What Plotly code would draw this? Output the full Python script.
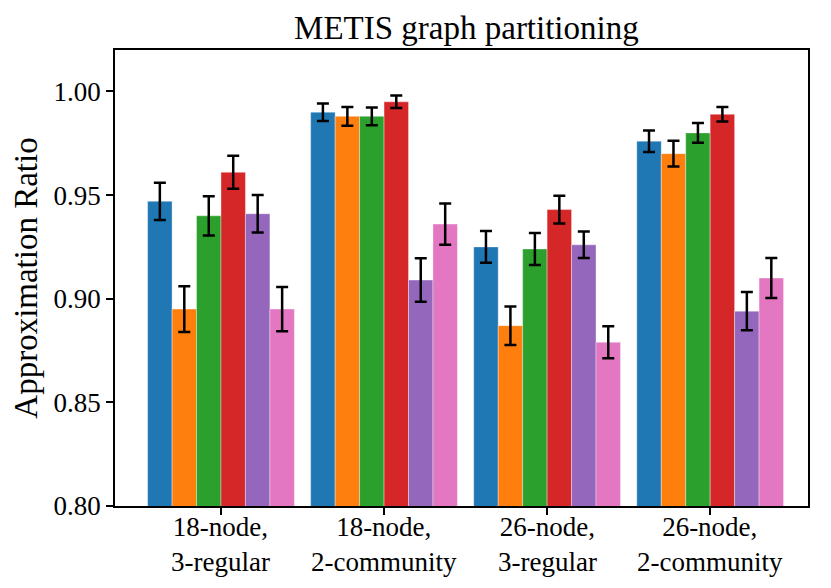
import plotly.graph_objects as go

groups = ["18-node, 3-regular", "18-node, 2-community",
          "26-node, 3-regular", "26-node, 2-community"]
label_top = ["18-node,", "18-node,", "26-node,", "26-node,"]
label_bottom = ["3-regular", "2-community", "3-regular", "2-community"]

# one list per method (bar colour), values per group
blue = [0.947, 0.990, 0.925, 0.976]
orange = [0.895, 0.988, 0.887, 0.970]
green = [0.940, 0.988, 0.924, 0.980]
red = [0.961, 0.995, 0.943, 0.989]
purple = [0.941, 0.909, 0.926, 0.894]
pink = [0.895, 0.936, 0.879, 0.910]

blue_err = [0.009, 0.0042, 0.0077, 0.0052]
orange_err = [0.011, 0.0045, 0.0093, 0.0062]
green_err = [0.0095, 0.0043, 0.0077, 0.0048]
red_err = [0.008, 0.003, 0.0067, 0.0035]
purple_err = [0.009, 0.0105, 0.0064, 0.0092]
pink_err = [0.0107, 0.010, 0.0077, 0.0096]

series = [
    (blue, blue_err, "#1f77b4"),
    (orange, orange_err, "#ff7f0e"),
    (green, green_err, "#2ca02c"),
    (red, red_err, "#d62728"),
    (purple, purple_err, "#9467bd"),
    (pink, pink_err, "#e377c2"),
]

fig = go.Figure()
for vals, errs, col in series:
    fig.add_trace(go.Bar(
        x=groups, y=vals, marker_color=col,
        marker_line=dict(width=0.6, color="rgba(255,255,255,0.6)"),
        error_y=dict(type="data", array=errs, color="black", thickness=2.5, width=6),
        showlegend=False,
    ))

# two-line category labels under each tick
for g, top, bottom in zip(groups, label_top, label_bottom):
    fig.add_annotation(x=g, y=0, xref="x", yref="paper",
                       text=f"{top}<br>{bottom}", showarrow=False,
                       yanchor="middle", yshift=-38, font=dict(size=27))

font = "Liberation Serif, Times New Roman, serif"
# page body adds an 8px offset, so the figure is sized to fill the rest
fig.update_layout(
    width=823, height=580,
    margin=dict(l=107, r=23, t=42, b=82),
    paper_bgcolor="white", plot_bgcolor="white",
    barmode="group", bargap=0.1, bargroupgap=0,
    font=dict(family=font, color="black", size=26),
    title=dict(text="METIS graph partitioning", x=0.557, xanchor="center",
               y=0.967, yanchor="middle", font=dict(size=33)),
)
fig.update_xaxes(
    range=[-0.65, 3.6], showline=True, linecolor="black", linewidth=1.5,
    mirror=True, ticks="outside", ticklen=7, tickwidth=1.5, tickcolor="black",
    showticklabels=False, automargin=False,
)
fig.update_yaxes(
    range=[0.80, 1.02], tickvals=[0.80, 0.85, 0.90, 0.95, 1.00],
    tickformat=".2f", showgrid=False, zeroline=False,
    showline=True, linecolor="black", linewidth=1.5, mirror=True,
    ticks="outside", ticklen=7, tickwidth=1.5, tickcolor="black",
    title=dict(text="Approximation Ratio", font=dict(size=33), standoff=7),
    tickfont=dict(size=27), automargin=False,
)

fig.write_html("out.html")
